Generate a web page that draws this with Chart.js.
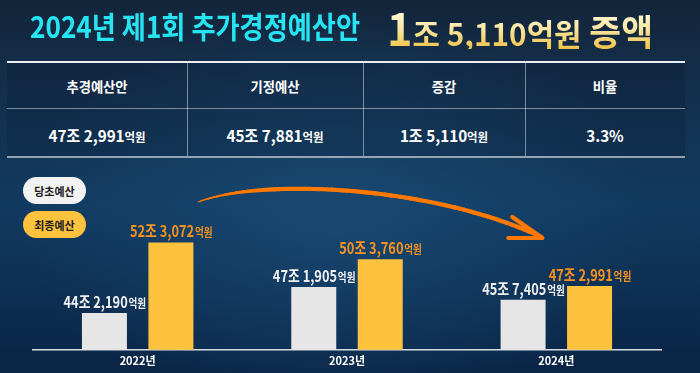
<!DOCTYPE html>
<html><head><meta charset="utf-8">
<script src="https://cdn.jsdelivr.net/npm/chart.js@4.4.1/dist/chart.umd.min.js"></script>
<style>
html,body{margin:0;padding:0;width:700px;height:373px;overflow:hidden;}
body{position:relative;font-family:"Noto Sans CJK KR","Noto Sans",sans-serif;font-weight:700;
background:
 radial-gradient(ellipse 45% 55% at 48% 58%, rgba(30,85,130,0.55) 0%, rgba(30,85,130,0) 100%),
 linear-gradient(180deg,#13253a 0%,#142f4b 22%,#113a60 55%,#0d2e52 80%,#0a2444 100%);}
#c{position:absolute;left:0;top:0;}
.abs{position:absolute;white-space:nowrap;line-height:1;}
#title{position:absolute;left:30px;top:10px;white-space:nowrap;line-height:1;transform-origin:0 0;}
#title .cy{color:#27e4f3;font-size:30px;}
#head2{position:absolute;left:387px;top:4px;white-space:nowrap;line-height:1;transform-origin:0 0;font-family:"Noto Sans CJK KR",sans-serif;
 background:linear-gradient(180deg,#fffde6 10%,#fbe7a0 55%,#f0c24a 100%);-webkit-background-clip:text;background-clip:text;color:transparent;}
.line{position:absolute;background:rgba(255,255,255,0.45);}
.pill{position:absolute;left:23px;width:63px;height:27px;border-radius:14px;display:flex;align-items:center;justify-content:center;color:#1c1c1c;font-size:11px;}
</style></head>
<body>
<div id="title"><span class="cy"></span></div>
<div id="head2"></div>
<div id="table"></div>
<div id="legend"></div>
<canvas id="c" width="700" height="373"></canvas>
<script>
// ---- data ----
const titleText = '2024년 제1회 추가경정예산안';
const headlineNumber = '1';
const headlineRest = '조 5,110억원';
const headlineEnd = '증액';
const tableHeaders = ['추경예산안', '기정예산', '증감', '비율'];
const tableValues = ['47조 2,991', '45조 7,881', '1조 5,110', '3.3%'];
const tableUnits = ['억원', '억원', '억원', ''];
const categories = ['2022년', '2023년', '2024년'];
const seriesNames = ['당초예산', '최종예산'];
// values in 억원
const originalBudget = [442190, 471905, 457405];
const finalBudget = [523072, 503760, 472991];

// ---- title ----
document.querySelector('#title .cy').textContent = titleText;
const h2 = document.getElementById('head2');
h2.innerHTML = '<span style="font-size:45px">' + headlineNumber + '</span><span style="font-size:31px">' + headlineRest +
  '</span><span style="font-size:36px"> ' + headlineEnd + '</span>';
function fitBox(el, w){ const r = el.getBoundingClientRect(); el.style.transform = 'scaleX(' + (w / r.width) + ')'; }
fitBox(document.getElementById('title'), 330);
fitBox(h2, 266);

// ---- table ----
const table = document.getElementById('table');
const colEdges = [7, 187, 363, 525, 685];
function addLine(x, y, w, h, bg){ const d = document.createElement('div'); d.className = 'line';
  d.style.cssText = `left:${x}px;top:${y}px;width:${w}px;height:${h}px;` + (bg ? `background:${bg};` : ''); table.appendChild(d); }
const bgd = document.createElement('div'); bgd.style.cssText = 'position:absolute;left:7px;top:63px;width:678px;height:94px;background:rgba(8,24,44,0.22)'; table.appendChild(bgd);
addLine(7, 61, 678, 2, '#e8eef3');
addLine(7, 108, 678, 1);
addLine(7, 156, 678, 1.5, 'rgba(255,255,255,0.55)');
for (let i = 1; i < colEdges.length - 1; i++) addLine(colEdges[i], 63, 1, 93);
function centerText(html, cx, cy, fs, sx){
  const d = document.createElement('div'); d.className = 'abs';
  d.style.cssText += `left:${cx}px;top:${cy}px;font-size:${fs}px;color:#fff;transform:translate(-50%,-50%) scaleX(${sx});`;
  d.innerHTML = html; table.appendChild(d); return d;
}
tableHeaders.forEach((h, i) => centerText(h, (colEdges[i] + colEdges[i + 1]) / 2, 86, 14, 0.95));
tableValues.forEach((v, i) => centerText(v + (tableUnits[i] ? '<span style="font-size:12px">' + tableUnits[i] + '</span>' : ''),
  (colEdges[i] + colEdges[i + 1]) / 2, 135, 16, 0.95));

// ---- chart ----
const barColors = ['#e6e6e6', '#fec23f'];
const labelColors = ['#f0f0f0', '#f7921e'];
const legend = document.getElementById('legend');
seriesNames.forEach((n, i) => { const p = document.createElement('div'); p.className = 'pill';
  p.style.top = (177 + i * 34) + 'px'; p.style.background = i ? barColors[1] : '#f2f2f2'; p.textContent = n; legend.appendChild(p); });

const FONT = '"Noto Sans CJK KR","Noto Sans",sans-serif';
const valueLabels = {
  id: 'valueLabels',
  afterDatasetsDraw(chart){
    const ctx = chart.ctx;
    chart.data.datasets.forEach((ds, di) => {
      chart.getDatasetMeta(di).data.forEach((bar, i) => {
        const v = ds.data[i];
        const main = Math.floor(v / 10000) + '조 ' + (v % 10000).toLocaleString('en-US');
        const unit = '억원';
        ctx.save();
        ctx.font = 'bold 16px ' + FONT; const w1 = ctx.measureText(main).width;
        ctx.font = 'bold 12px ' + FONT; const w2 = ctx.measureText(unit).width;
        const sx = 0.8;
        ctx.translate(bar.x, bar.y - 5);
        ctx.scale(sx, 1);
        ctx.fillStyle = labelColors[di];
        ctx.textBaseline = 'alphabetic'; ctx.textAlign = 'left';
        const x0 = -(w1 + w2) / 2;
        ctx.font = 'bold 16px ' + FONT; ctx.fillText(main, x0, 0);
        ctx.font = 'bold 12px ' + FONT; ctx.fillText(unit, x0 + w1 + 1, 0);
        ctx.restore();
      });
    });
  }
};
const arrow = {
  id: 'arrow',
  beforeDatasetsDraw(chart){
    const ctx = chart.ctx, xs = chart.scales.x, top = chart.chartArea.top;
    const p0 = [xs.getPixelForValue(0) + 60.5, top + 18];
    const c1 = [p0[0] + 62, top - 6];
    const p3 = [xs.getPixelForValue(2) - 15, top + 53];
    const c2 = [p3[0] - 111, top + 1];
    const pt = t => { const u = 1 - t; return [u*u*u*p0[0] + 3*u*u*t*c1[0] + 3*u*t*t*c2[0] + t*t*t*p3[0],
      u*u*u*p0[1] + 3*u*u*t*c1[1] + 3*u*t*t*c2[1] + t*t*t*p3[1]]; };
    ctx.save(); ctx.strokeStyle = '#ff7800'; ctx.lineCap = 'round'; ctx.lineJoin = 'round';
    const N = 80; let prev = pt(0);
    for (let k = 1; k <= N; k++) { const t = k / N; const p = pt(t);
      ctx.lineWidth = Math.min(4.2, 1 + t * 11);
      ctx.beginPath(); ctx.moveTo(prev[0], prev[1]); ctx.lineTo(p[0], p[1]); ctx.stroke(); prev = p; }
    ctx.lineWidth = 4.2; ctx.beginPath();
    ctx.moveTo(p3[0] - 29, p3[1] - 20); ctx.lineTo(p3[0] + 1, p3[1] + 1); ctx.lineTo(p3[0] - 33, p3[1] + 1); ctx.stroke();
    ctx.restore();
  }
};
new Chart(document.getElementById('c'), {
  type: 'bar',
  data: { labels: categories, datasets: [
    { label: seriesNames[0], data: originalBudget, backgroundColor: barColors[0] },
    { label: seriesNames[1], data: finalBudget, backgroundColor: barColors[1] } ] },
  options: {
    responsive: false, animation: false, devicePixelRatio: 1,
    layout: { padding: { left: 33, right: 39, top: 184, bottom: 2 } },
    datasets: { bar: { categoryPercentage: 0.635, barPercentage: 0.677 } },
    scales: {
      x: { grid: { display: false, drawTicks: false }, border: { display: true, color: '#d3dbe4', width: 1.5 },
           ticks: { color: '#ffffff', padding: 4, font: { size: 11, weight: 'bold', family: FONT } } },
      y: { display: false, min: 400000, max: 590000 }
    },
    plugins: { legend: { display: false }, tooltip: { enabled: false } }
  },
  plugins: [arrow, valueLabels]
});
</script>
</body></html>
